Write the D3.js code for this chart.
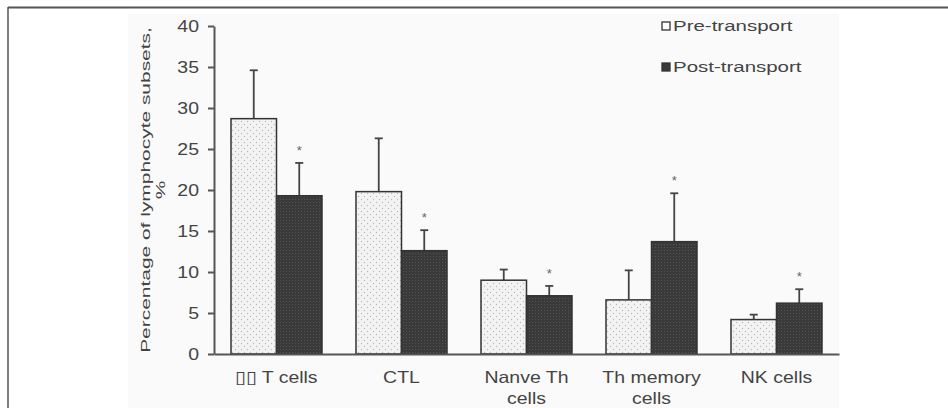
<!DOCTYPE html>
<meta charset="utf-8">
<style>
  body { margin: 0; background: #fff; }
  text { font-family: "Liberation Sans", Arial, sans-serif; fill: #444; }
</style>
<svg width="948" height="408"></svg>
<script src="https://d3js.org/d3.v7.min.js"></script>
<script>

var categories = ["\u25AF\u25AF T cells", "CTL", "Nanve Th\ncells", "Th memory\ncells", "NK cells"];
var preValues = [28.7, 19.8, 9.0, 6.6, 4.2];
var preErrors = [5.9, 6.5, 1.3, 3.6, 0.6];
var postValues = [19.3, 12.6, 7.1, 13.7, 6.2];
var postErrors = [4.0, 2.5, 1.2, 5.9, 1.7];
var postSignificant = [true, true, true, true, true];
var seriesNames = ["Pre-transport", "Post-transport"];
var yTicks = [0, 5, 10, 15, 20, 25, 30, 35, 40];

var svg = d3.select("svg");

// stretch text horizontally, the figure's type is wider than Arial
function stretch(sel, k) {
  sel.each(function() {
    var w = this.getComputedTextLength();
    d3.select(this).attr("textLength", w * k).attr("lengthAdjust", "spacingAndGlyphs");
  });
}

var defs = svg.append("defs");
var lightPat = defs.append("pattern")
    .attr("id", "light").attr("patternUnits", "userSpaceOnUse")
    .attr("width", 6).attr("height", 6);
lightPat.append("rect").attr("width", 6).attr("height", 6).attr("fill", "#f3f3f3");
lightPat.append("circle").attr("cx", 1.5).attr("cy", 1.5).attr("r", 0.7).attr("fill", "#b8b8b8");
lightPat.append("circle").attr("cx", 4.5).attr("cy", 4.5).attr("r", 0.7).attr("fill", "#b8b8b8");

var darkPat = defs.append("pattern")
    .attr("id", "dark").attr("patternUnits", "userSpaceOnUse")
    .attr("width", 3).attr("height", 3);
darkPat.append("rect").attr("width", 3).attr("height", 3).attr("fill", "#3a3a3a");
darkPat.append("rect").attr("x", 1).attr("y", 1).attr("width", 1).attr("height", 1).attr("fill", "#555");

// frame
svg.append("rect").attr("x", 128).attr("y", 13).attr("width", 711).attr("height", 395).attr("fill", "#fafafa");
svg.append("line").attr("x1", 8).attr("x2", 948).attr("y1", 7.5).attr("y2", 7.5)
    .attr("stroke", "#555").attr("stroke-width", 2);
svg.append("line").attr("x1", 8).attr("x2", 8).attr("y1", 7).attr("y2", 408)
    .attr("stroke", "#555").attr("stroke-width", 1.5);

var x0 = d3.scaleBand().domain(categories).range([214, 839])
    .paddingInner(0.272).paddingOuter(0.136);
var x1 = d3.scaleBand().domain(seriesNames).range([0, x0.bandwidth()]);
var y = d3.scaleLinear().domain([0, 40]).range([354, 26]);

var groups = categories.map(function(c, i) {
  return [
    {cat: c, s: seriesNames[0], v: preValues[i], e: preErrors[i], star: false},
    {cat: c, s: seriesNames[1], v: postValues[i], e: postErrors[i], star: postSignificant[i]}
  ];
});
var items = [].concat.apply([], groups);

// error bars behind bars
var err = svg.append("g").attr("stroke", "#444").attr("stroke-width", 1.8);
err.selectAll("line.v").data(items).enter().append("line")
    .attr("x1", function(d) { return x0(d.cat) + x1(d.s) + x1.bandwidth() / 2; })
    .attr("x2", function(d) { return x0(d.cat) + x1(d.s) + x1.bandwidth() / 2; })
    .attr("y1", function(d) { return y(d.v); })
    .attr("y2", function(d) { return y(d.v + d.e); });
err.selectAll("line.c").data(items).enter().append("line")
    .attr("x1", function(d) { return x0(d.cat) + x1(d.s) + x1.bandwidth() / 2 - 4; })
    .attr("x2", function(d) { return x0(d.cat) + x1(d.s) + x1.bandwidth() / 2 + 4; })
    .attr("y1", function(d) { return y(d.v + d.e); })
    .attr("y2", function(d) { return y(d.v + d.e); });

svg.append("g").selectAll("rect").data(items).enter().append("rect")
    .attr("x", function(d) { return x0(d.cat) + x1(d.s); })
    .attr("y", function(d) { return y(d.v); })
    .attr("width", x1.bandwidth())
    .attr("height", function(d) { return y(0) - y(d.v); })
    .attr("fill", function(d) { return d.s === seriesNames[0] ? "url(#light)" : "url(#dark)"; })
    .attr("stroke", "#333").attr("stroke-width", 1.5);

svg.append("g").selectAll("text").data(items.filter(function(d) { return d.star; })).enter().append("text")
    .attr("x", function(d) { return x0(d.cat) + x1(d.s) + x1.bandwidth() / 2; })
    .attr("y", function(d) { return y(d.v + d.e) - 8; })
    .attr("text-anchor", "middle").attr("font-size", 13).style("fill", "#666")
    .text("*");

// y axis
var yAxis = svg.append("g").attr("transform", "translate(214,0)")
    .call(d3.axisLeft(y).tickValues(yTicks).tickSize(6).tickSizeOuter(0).tickPadding(9));
yAxis.select(".domain").attr("stroke", "#555").attr("stroke-width", 2);
yAxis.selectAll(".tick line").attr("stroke", "#555").attr("stroke-width", 2);
yAxis.selectAll(".tick text").attr("font-size", 16.5).attr("font-family", null).style("fill", "#444")
    .call(stretch, 1.18);

// x axis
var xAxis = svg.append("g").attr("transform", "translate(0,354)")
    .call(d3.axisBottom(x0).tickSize(0).tickSizeOuter(0).tickPadding(0));
xAxis.select(".domain").attr("stroke", "#555").attr("stroke-width", 2);
xAxis.selectAll(".tick text").attr("font-size", 16.5).attr("font-family", null).style("fill", "#444")
    .attr("y", 0).attr("dy", null)
    .each(function(d) {
      var t = d3.select(this).text("");
      d.split("\n").forEach(function(line, i) {
        t.append("tspan").attr("x", 0).attr("y", 29 + i * 21).text(line);
      });
    });
xAxis.selectAll(".tick tspan").call(stretch, 1.18);

// y title
var title = svg.append("text").attr("transform", "translate(150,190) rotate(-90)")
    .attr("text-anchor", "middle").attr("font-size", 13.5);
title.append("tspan").attr("x", 0).attr("y", 0).text("Percentage of lymphocyte subsets,");
title.append("tspan").attr("x", 0).attr("y", 15).text("%");
title.selectAll("tspan").call(stretch, 1.55);

// legend
var legend = svg.append("g").selectAll("g").data(seriesNames).enter().append("g")
    .attr("transform", function(d, i) { return "translate(662," + (22 + i * 41) + ")"; });
legend.append("rect").attr("width", 8).attr("height", 8)
    .attr("fill", function(d, i) { return i === 0 ? "#fff" : "#3a3a3a"; })
    .attr("stroke", "#333").attr("stroke-width", 1.3);
legend.append("text").attr("x", 11).attr("y", 9).attr("font-size", 15.5)
    .text(function(d) { return d; })
    .call(stretch, 1.32);

</script>
